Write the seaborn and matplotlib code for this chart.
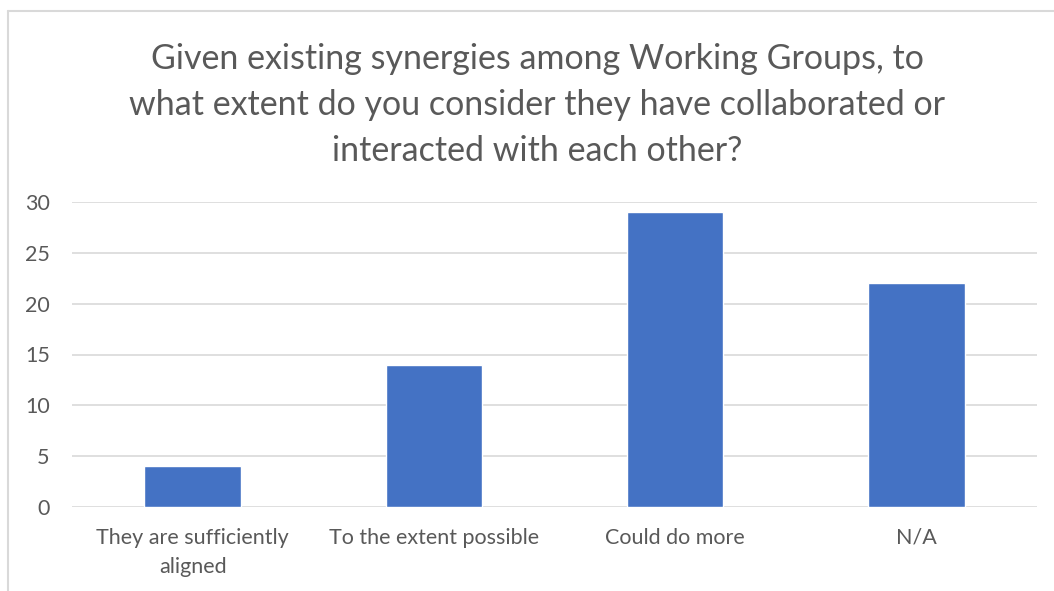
import matplotlib
matplotlib.use("Agg")
import matplotlib.pyplot as plt
import seaborn as sns
import pandas as pd

categories = ["They are sufficiently\naligned", "To the extent possible", "Could do more", "N/A"]
counts = [4, 14, 29, 22]
yticks = [0, 5, 10, 15, 20, 25, 30]

title = ("Given existing synergies among Working Groups, to\n"
         "what extent do you consider they have collaborated or\n"
         "interacted with each other?")

sns.set_theme(style="white")
plt.rcParams['font.family'] = ['Lato', 'DejaVu Sans']

df = pd.DataFrame({"answer": categories, "count": counts})

fig = plt.figure(figsize=(10.54, 5.91), dpi=100)
ax = fig.add_axes([72 / 1054, 1 - 507 / 591, (1037 - 72) / 1054, (507 - 202) / 591])

sns.barplot(data=df, x="answer", y="count", color="#4472C4", width=0.4,
            saturation=1, ax=ax, zorder=3)

ax.set_ylim(0, 30)
ax.set_yticks(yticks)
ax.set_xlabel("")
ax.set_ylabel("")
ax.yaxis.grid(True, color="#D9D9D9", linewidth=1.2, zorder=0)
for s in ax.spines.values():
    s.set_visible(False)
ax.tick_params(axis="both", length=0, labelsize=15.5, labelcolor="#595959")
ax.tick_params(axis="y", pad=16)
ax.tick_params(axis="x", pad=15)
for lbl in ax.get_xticklabels():
    lbl.set_linespacing(1.6)

fig.text(537 / 1054, 1 - 105 / 591, title, ha="center", va="center",
         fontsize=24.5, color="#595959", linespacing=1.54)

# chart border (cropped on the right and bottom)
fig.add_artist(plt.Line2D([8 / 1054, 1.0], [1 - 11 / 591, 1 - 11 / 591],
                          color="#D9D9D9", linewidth=1.5))
fig.add_artist(plt.Line2D([8 / 1054, 8 / 1054], [0, 1 - 11 / 591],
                          color="#D9D9D9", linewidth=1.5))

fig.savefig("out.png", dpi=100)
